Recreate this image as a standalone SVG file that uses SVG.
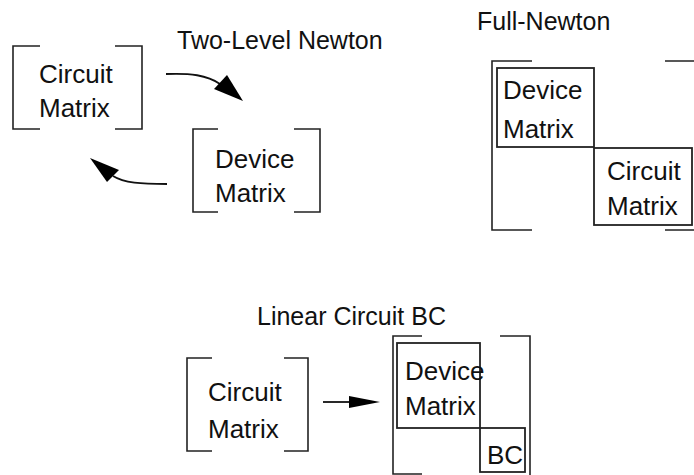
<svg xmlns="http://www.w3.org/2000/svg" width="694" height="475" viewBox="0 0 694 475">
<style>
.t{font-family:"Liberation Sans",Arial,sans-serif;font-size:25px;fill:#111}
.l{font-family:"Liberation Sans",Arial,sans-serif;font-size:26px;fill:#111}
.br{fill:none;stroke:#222;stroke-width:1.6}
.bx{fill:none;stroke:#222;stroke-width:1.8}
.ln{fill:none;stroke:#111;stroke-width:1.8}
.ah{fill:#000}
</style>
<rect width="694" height="475" fill="#fff"/>
<g id="title-two-level"><text class="t" x="177" y="49">Two-Level Newton</text></g>
<g id="title-full"><text class="t" x="477" y="30">Full-Newton</text></g>
<g id="title-linear"><text class="t" x="257" y="325">Linear Circuit BC</text></g>

<g id="circuit-matrix-1">
<path class="br" d="M40,46H13V129H40M115,46H142V129H115"/>
<text class="l" x="39" y="83">Circuit</text>
<text class="l" x="39" y="117">Matrix</text>
</g>
<g id="device-matrix-1">
<path class="br" d="M218,129H193V212H218M294,129H320V212H294"/>
<text class="l" x="215" y="168">Device</text>
<text class="l" x="215" y="202">Matrix</text>
</g>

<g id="full-newton">
<path class="br" d="M532,61H492V230H532M665,61H694M665,230H694"/>
<g id="device-matrix-2">
<rect class="bx" x="497" y="68" width="97" height="79"/>
<text class="l" x="503" y="99">Device</text>
<text class="l" x="503" y="138">Matrix</text>
</g>
<g id="circuit-matrix-2">
<rect class="bx" x="594" y="148" width="98" height="77"/>
<text class="l" x="607" y="180">Circuit</text>
<text class="l" x="607" y="215">Matrix</text>
</g>
</g>

<g id="circuit-matrix-3">
<path class="br" d="M212,358H187V451H212M284,358H308V451H284"/>
<text class="l" x="208" y="401">Circuit</text>
<text class="l" x="208" y="438">Matrix</text>
</g>
<g id="linear-bc">
<path class="br" d="M422,336H393V474H422M500,336H530V475"/>
<g id="device-matrix-3">
<rect class="bx" x="397" y="343" width="83" height="85"/>
<text class="l" x="405" y="380">Device</text>
<text class="l" x="405" y="415">Matrix</text>
</g>
<g id="bc">
<rect class="bx" x="480" y="428" width="45" height="44"/>
<text class="l" x="487" y="464">BC</text>
</g>
</g>

<g id="connectors">
<path class="ln" d="M166,74C190,73 207,75 220,84"/>
<polygon class="ah" points="214,89 227,75 243,101"/>
<path class="ln" d="M167,184C141,184 124,183 113,176"/>
<polygon class="ah" points="90,158 119,170 107,182"/>
<path class="ln" d="M323,402H352"/>
<polygon class="ah" points="349,396 380,402 349,408"/>
</g>
</svg>
